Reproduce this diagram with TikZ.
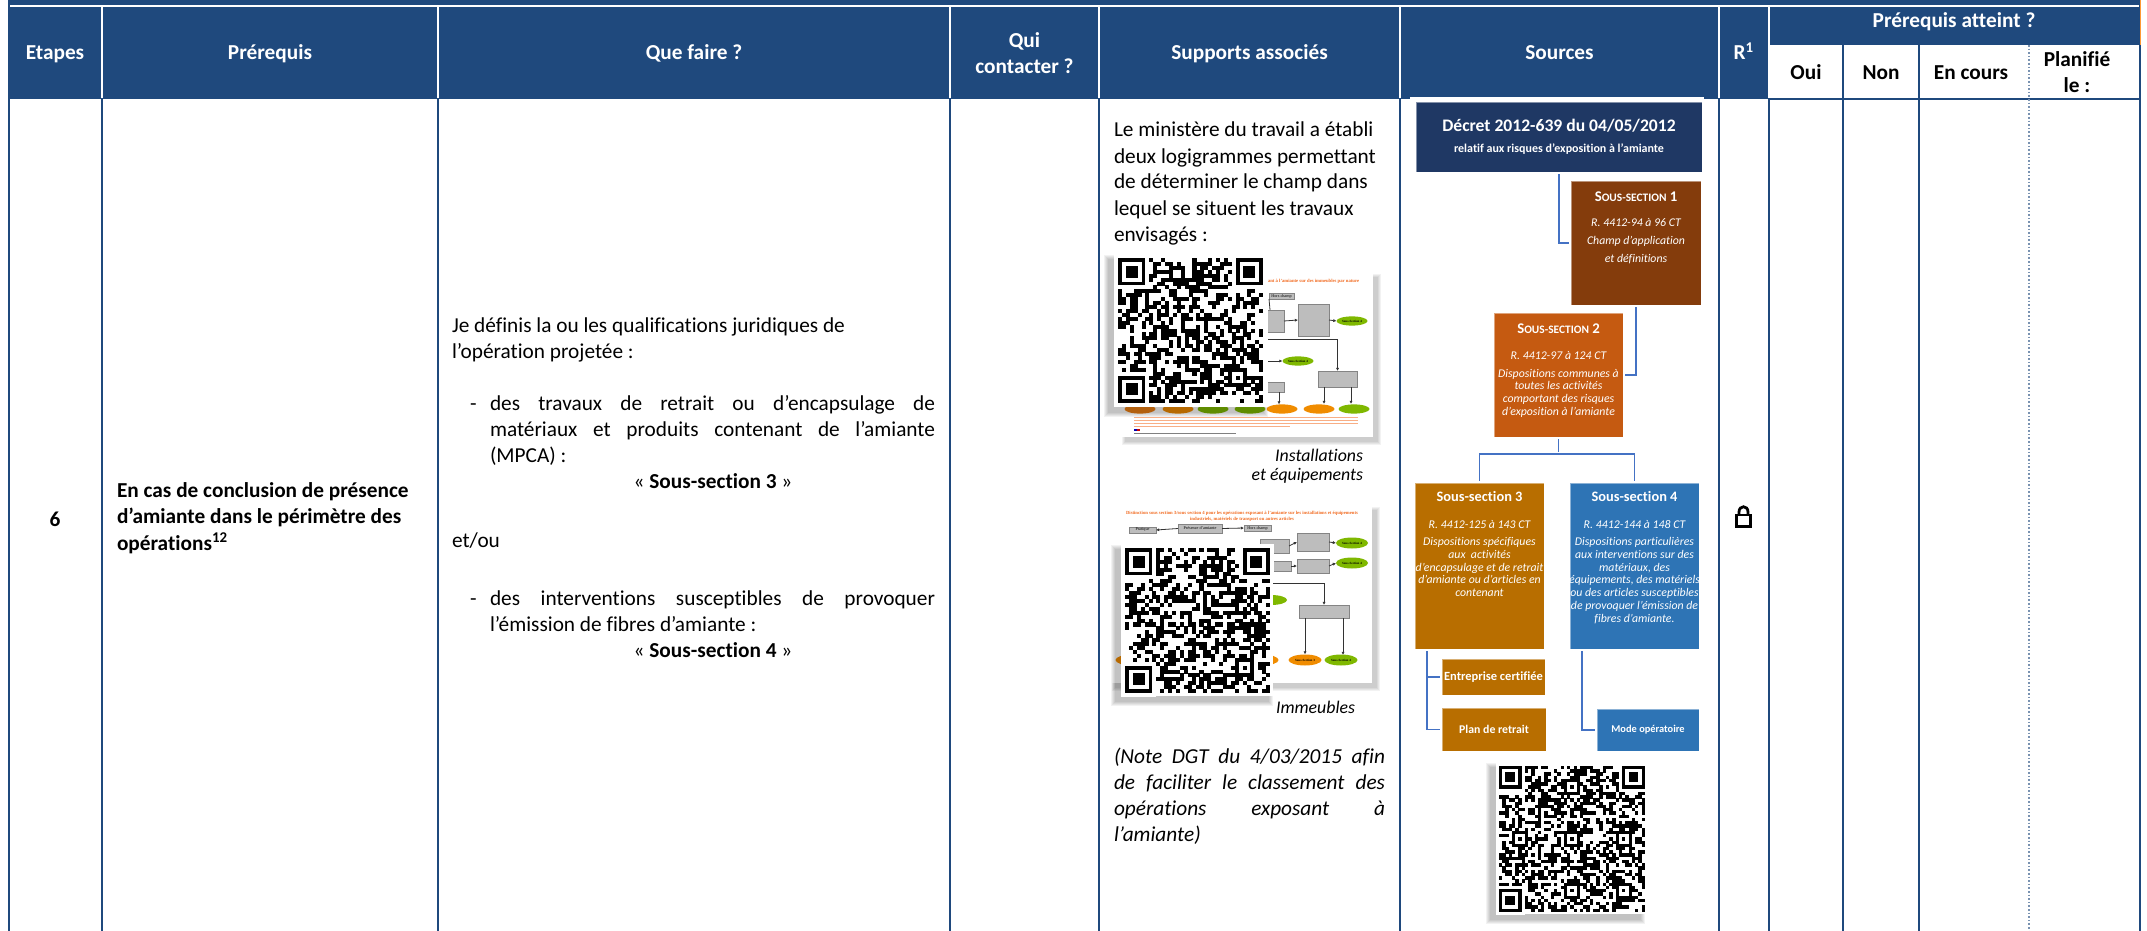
\documentclass[tikz,border=0pt]{standalone}
\usepackage{fontspec}
\setmainfont{Carlito}[Ligatures=NoCommon]
\newfontfamily\thumbf{Liberation Serif}
\usetikzlibrary{arrows.meta,calc,shapes.geometric}
\definecolor{hdrblue}{HTML}{1F497D}
\definecolor{navy}{HTML}{1F3864}
\definecolor{brownb}{HTML}{843C0C}
\definecolor{orangeb}{HTML}{C55A11}
\definecolor{ochre}{HTML}{B86E00}
\definecolor{blueb}{HTML}{2E74B5}
\definecolor{connc}{HTML}{4472C4}
\definecolor{thgray}{HTML}{BDBDBD}
\definecolor{thgreen}{HTML}{7FB800}
\definecolor{thorange}{HTML}{F08C00}
\definecolor{thtitle}{HTML}{F26B21}
\newcommand\fz[1]{\fontsize{#1}{#1}\selectfont}
\tikzset{
  every node/.style={inner sep=0pt,outer sep=0pt},
  hdr/.style={text=white,font=\fz{10.65}\bfseries,anchor=base},
  subh/.style={text=black,font=\fz{10.65}\bfseries,anchor=base},
  body/.style={text=black,font=\fz{10.65},anchor=base west},
  bodyc/.style={text=black,font=\fz{10.65},anchor=base},
  bodyit/.style={text=black,font=\fz{10.65}\itshape,anchor=base west},
  captxt/.style={text=black,font=\fz{8.9}\itshape,anchor=base east},
  wt/.style={text=white,font=\fz{5.9}\itshape,anchor=base},
  wb/.style={text=white,font=\fz{7.2}\bfseries,anchor=base},
  wbox/.style={text=white,font=\fz{6.25}\bfseries,anchor=center},
  sbox/.style={draw=white,draw opacity=.45,line width=.3pt},
  conn/.style={draw=connc,line width=.85pt,shorten <=1.2pt,shorten >=1.2pt},
  colline/.style={draw=hdrblue,line width=1pt},
  hsep/.style={draw=white,line width=1pt},
  thbox/.style={fill=thgray,draw=thgray!70!black,line width=.08pt,text=black,font=\thumbf\fz{2.1}},
  thell/.style={ellipse,text=black,font=\thumbf\bfseries\fz{1.6},inner sep=0pt},
  tharrow/.style={draw=black!80,line width=.4pt,-{Latex[length=1.6pt,width=1.6pt]}},
  thline/.style={draw=black!80,line width=.4pt},
  thtxt/.style={text=thtitle,font=\thumbf\bfseries\fz{2.35},anchor=base},
  fake/.style={draw=thtitle!55,line width=.5pt},
}
% box given by its corners, in reference pixels
\newcommand\pbox[6]{%
  \pgfmathsetmacro\bw{(#4-#2)*.5}\pgfmathsetmacro\bh{(#5-#3)*.5}%
  \pgfmathsetmacro\bx{(#2+#4)/2}\pgfmathsetmacro\by{(#3+#5)/2}%
  \node[sbox,fill=#6,minimum width=\bw pt,minimum height=\bh pt] (#1) at (\bx,\by) {};}
\newcommand\thb[6][]{%
  \pgfmathsetmacro\bw{(#4-#2)*.5}\pgfmathsetmacro\bh{(#5-#3)*.5}%
  \pgfmathsetmacro\bx{(#2+#4)/2}\pgfmathsetmacro\by{(#3+#5)/2}%
  \node[thbox,minimum width=\bw pt,minimum height=\bh pt] (#6) at (\bx,\by) {#1};}
% soft shadow: corners, then the side it falls to (-1 left, 1 right) and the reach
\newcommand\softshadow[6]{%
  \foreach \s in {1,...,#6}{\fill[black,opacity=.05]
    ({#1+#5*#6-\s},{#2+#6-\s}) rectangle ({#3+#5*#6+\s},{#4+#6+\s});}}
% x y n module seed alignment-list
\newcommand\qrcode[6]{%
  \pgfmathsetmacro\qm{#4*.5}\pgfmathtruncatemacro\qlast{#3-1}%
  \pgfmathsetseed{#5}%
  \begin{scope}[shift={(#1,#2)},x=\qm pt,y=-\qm pt]
    \foreach \i in {0,...,\qlast}{\foreach \j in {0,...,\qlast}{%
      \pgfmathrandominteger\qr{0}{99}%
      \ifnum\qr<50 \fill[black] (\i,\j) rectangle ++(1.03,1.03);\fi}}
    \foreach \fx/\fy in {0/0,{#3-7}/0,0/{#3-7}}{%
      \fill[white] ({\fx-1},{\fy-1}) rectangle ++(9,9);
      \fill[black] (\fx,\fy) rectangle ++(7,7);
      \fill[white] ({\fx+1},{\fy+1}) rectangle ++(5,5);
      \fill[black] ({\fx+2},{\fy+2}) rectangle ++(3,3);}
    \foreach \ax/\ay in {#6}{%
      \fill[black] (\ax,\ay) rectangle ++(5,5);
      \fill[white] ({\ax+1},{\ay+1}) rectangle ++(3,3);
      \fill[black] ({\ax+2},{\ay+2}) rectangle ++(1,1);}
  \end{scope}}
\begin{document}
\begin{tikzpicture}[x=.5pt,y=-.5pt]
\useasboundingbox (0,0) rectangle (2147,931);
\fill[white] (0,0) rectangle (2147,931);
% header band
\fill[hdrblue] (8,0) rectangle (2140,99);
\fill[white] (10,5) rectangle (2139,7);
\fill[white] (1770,45) rectangle (2140,99);
\draw[draw=orange!80,line width=.5pt] (2140.5,0) -- (2140.5,45);
% column lines
\foreach \cx in {9,102,438,950,1099,1400,1719,1769,2140}{\draw[colline] (\cx,99) -- (\cx,931);}
\foreach \cx in {1769,1843,1919,2140}{\draw[colline] (\cx,45) -- (\cx,99);}
\draw[colline] (1769,99) -- (2140,99);
\draw[colline] (1843,99) -- (1843,931);
\draw[colline] (1919,99) -- (1919,931);
\draw[draw=hdrblue!60,line width=.8pt,densely dotted] (2029,45) -- (2029,931);
\foreach \cx in {102,438,950,1099,1400,1719,1769}{\draw[hsep] (\cx,7) -- (\cx,98);}
% header text
\node[hdr] (hEtapes) at (55,60) {Etapes};
\node[hdr] (hPrereq) at (270,60) {Prérequis};
\node[hdr] (hQue) at (694,60) {Que faire ?};
\node[hdr] (hQui) at (1024.5,48) {Qui};
\node[hdr] (hCont) at (1024.5,74) {contacter ?};
\node[hdr] (hSup) at (1249.5,60) {Supports associés};
\node[hdr] (hSrc) at (1559.5,60) {Sources};
\node[hdr] (hR) at (1744,60) {R\textsuperscript{1}};
\node[hdr] (hAtt) at (1954,28) {Prérequis atteint ?};
\node[subh] (hOui) at (1806,80) {Oui};
\node[subh] (hNon) at (1881,80) {Non};
\node[subh] (hCours) at (1971,80) {En cours};
\node[subh] (hPlan) at (2077,67) {Planifié};
\node[subh] (hLe) at (2077,93) {le :};
% step
\node[subh] (six) at (55,526) {6};
\node[body,font=\fz{10.65}\bfseries] (p1) at (117,497) {En cas de conclusion de présence};
\node[body,font=\fz{10.65}\bfseries] (p2) at (117,523) {d’amiante dans le périmètre des};
\node[body,font=\fz{10.65}\bfseries] (p3) at (117,550) {opérations\textsuperscript{12}};
% que faire
\node[body] (q1) at (452,332) {Je définis la ou les qualifications juridiques de};
\node[body] (q2) at (452,358) {l’opération projetée :};
\node[body] (q3d) at (470,410) {-};
\node[body] (q3) at (490,410) {\makebox[222.5pt][s]{des travaux de retrait ou d’encapsulage de}};
\node[body] (q4) at (490,436) {\makebox[222.5pt][s]{matériaux et produits contenant de l’amiante}};
\node[body] (q5) at (490,462) {(MPCA) :};
\node[bodyc] (q6) at (713,488) {« \textbf{Sous-section 3} »};
\node[body] (q7) at (452,547) {et/ou};
\node[body] (q8d) at (470,605) {-};
\node[body] (q8) at (490,605) {\makebox[222.5pt][s]{des interventions susceptibles de provoquer}};
\node[body] (q9) at (490,631) {l’émission de fibres d’amiante :};
\node[bodyc] (q10) at (713,657) {« \textbf{Sous-section 4} »};
% supports text
\node[body] (s1) at (1114,137) {Le ministère du travail a établi};
\node[body] (s2) at (1114,163) {deux logigrammes permettant};
\node[body] (s3) at (1114,189) {de déterminer le champ dans};
\node[body] (s4) at (1114,215) {lequel se situent les travaux};
\node[body] (s5) at (1114,241) {envisagés :};
% thumbnail 1
\softshadow{1122}{274}{1373}{437}{1}{4}
\fill[white] (1122,274) rectangle (1373,437);
\node[thtxt,anchor=base west] (t1title) at (1268,282) {ant à l’amiante sur des immeubles par nature};
\thb[Hors champ]{1269}{293}{1294}{299}{t1a}
\thb{1262}{310}{1284}{332}{t1b}
\thb{1298}{304}{1329}{336}{t1c}
\node[thell,fill=thgreen,minimum width=15.5pt,minimum height=4.6pt] (t1d) at (1352,321) {Sous-Section 4};
\draw[tharrow] (t1b.east) -- (t1c.west);
\draw[tharrow] (t1c.east) -- (t1d.west);
\coordinate (t1n) at (1270,310);
\draw[thline] (t1n) -- (t1a.south west);
\node[thell,fill=thgreen,minimum width=15.5pt,minimum height=4.6pt] (t1e) at (1298,361) {Sous-Section 4};
\coordinate (t1f) at (1262,361);
\draw[tharrow] (t1f) -- (t1e.west);
\thb{1318}{371}{1357}{387}{t1g}
\coordinate (t1h) at (1262,339);
\draw[tharrow] (t1h) -| (t1g.north);
\thb{1262}{382}{1284}{392}{t1i}
\foreach \ex/\ec/\en in {1140/orange!70!brown/a,1178/thorange/b,1213/thgreen/c,1250/thgreen/d,1282/thorange/e,1319/thorange/f,1354/thgreen/g}{
  \node[thell,fill=\ec,minimum width=15.5pt,minimum height=4.6pt] (t1s\en) at (\ex,409) {};}
\coordinate (t1o) at (1279,392);\coordinate (t1p) at (1279,404.5);
\draw[tharrow] (t1o) -- (t1p);
\coordinate (t1j) at (1324,387);\coordinate (t1k) at (1351,387);
\coordinate (t1l) at (1324,404);\coordinate (t1m) at (1351,404);
\draw[tharrow] (t1j) -- (t1l);
\draw[tharrow] (t1k) -- (t1m);
\foreach \ly in {417,420,423}{\draw[fake,line width=.45pt] (1134,\ly) -- (1358,\ly);}
\draw[fake] (1134,426) -- (1290,426);
\fill[blue!70!black] (1134,428.5) rectangle (1137,431);\fill[red!80!black] (1137,428.5) rectangle (1140,431);
\draw[draw=gray,line width=.4pt] (1134,433.5) -- (1236,433.5);
\softshadow{1114}{255}{1268}{407}{-1}{5}
\fill[white] (1114,255) rectangle (1268,407);
\qrcode{1118}{258}{37}{3.92}{11}{28/28}
\node[captxt] (c1) at (1363,461) {Installations};
\node[captxt] (c2) at (1363,480) {et équipements};
% thumbnail 2
\softshadow{1112}{507}{1372}{683}{1}{4}
\fill[white] (1112,507) rectangle (1372,683);
\node[thtxt] (t2t1) at (1242,514) {Distinction sous section 3/sous section 4 pour les opérations exposant à l’amiante sur les installations et équipements};
\node[thtxt] (t2t2) at (1242,520) {industriels, matériels de transport ou autres articles};
\thb[Pratique]{1129}{527}{1156}{533}{t2a}
\thb[Présence d’amiante]{1178}{524}{1222}{533}{t2b}
\thb[Hors champ]{1244}{525}{1271}{531}{t2c}
\draw[tharrow] (t2b.west) -- (t2a.east);
\draw[tharrow] (t2b.east) -- (t2c.west);
\thb{1260}{539}{1289}{553}{t2d}
\thb{1297}{533}{1329}{551}{t2e}
\node[thell,fill=thgreen,minimum width=16pt,minimum height=5.5pt] (t2f) at (1352,543) {Sous-Section 4};
\draw[tharrow] (t2d.east) -- (t2e.west);
\draw[tharrow] (t2e.east) -- (t2f.west);
\thb{1262}{561}{1291}{571}{t2g}
\thb{1297}{559}{1329}{573}{t2h}
\node[thell,fill=thgreen,minimum width=16pt,minimum height=5.5pt] (t2i) at (1352,563) {Sous-Section 4};
\draw[tharrow] (t2g.east) -- (t2h.west);
\draw[tharrow] (t2h.east) -- (t2i.west);
\node[thell,fill=thgreen,minimum width=16pt,minimum height=5pt] (t2j) at (1271,600) {};
\thb{1299}{605}{1349}{618}{t2k}
\coordinate (t2l) at (1262,583);
\draw[tharrow] (t2l) -| (t2k.north);
\node[thell,fill=thorange,minimum width=16.5pt,minimum height=5.5pt] (t2m) at (1305,660) {Sous-Section 3};
\node[thell,fill=thgreen,minimum width=16.5pt,minimum height=5.5pt] (t2n) at (1341,660) {Sous-Section 4};
\node[thell,fill=thorange,minimum width=16.5pt,minimum height=5.5pt] (t2o) at (1262,660) {};
\node[thell,fill=thorange,minimum width=16.5pt,minimum height=5.5pt] (t2p) at (1132,660) {};
\draw[tharrow] (t2m.north |- t2k.south) -- (t2m.north);
\coordinate (t2q) at (1343,618);\coordinate (t2r) at (1343,655);
\draw[tharrow] (t2q) -- (t2r);
\softshadow{1121}{545}{1273}{696}{-1}{5}
\fill[white] (1121,545) rectangle (1273,696);
\qrcode{1125}{548}{37}{3.92}{27}{28/28}
\node[captxt] (c3) at (1355,713) {Immeubles};
\node[bodyit] (n1) at (1114,763) {\makebox[135.5pt][s]{(Note DGT du 4/03/2015 afin}};
\node[bodyit] (n2) at (1114,789) {\makebox[135.5pt][s]{de faciliter le classement des}};
\node[bodyit] (n3) at (1114,815) {\makebox[135.5pt][s]{opérations exposant à}};
\node[bodyit] (n4) at (1114,841) {l’amiante)};
% sources
\fill[white] (1410,97.5) rectangle (1704,101);
\pbox{decret}{1416}{102}{1702}{172}{navy}
\pbox{ss1}{1571}{181}{1701}{305}{brownb}
\pbox{ss2}{1494}{313}{1623}{437}{orangeb}
\pbox{ss3}{1415}{483}{1544}{649}{ochre}
\pbox{ss4}{1570}{483}{1699}{649}{blueb}
\pbox{ent}{1442}{659}{1545}{695}{ochre}
\pbox{plan}{1442}{708}{1546}{751}{ochre}
\pbox{mode}{1597}{709}{1699}{751}{blueb}
\coordinate (jct) at (1558.5,454);
\coordinate (ss3b) at (1427,649);
\coordinate (ss4b) at (1582,649);
\draw[conn] (decret.south) |- (ss1.west);
\draw[conn] (ss1.south) |- (ss2.east);
\draw[conn] (ss2.south) -- (jct);
\draw[conn] (ss3.north) |- (jct) -| (ss4.north);
\draw[conn] (ss3b) |- (plan.west);
\draw[conn,shorten <=0pt] (ss3b |- ent.west) -- (ent.west);
\draw[conn] (ss4b) |- (mode.west);
\node[wb,font=\fz{8.8}\bfseries] (dt1) at (1559,132) {Décret 2012-639 du 04/05/2012};
\node[wb,font=\fz{6}\bfseries] (dt2) at (1559,153) {relatif aux risques d'exposition à l'amiante};
\node[wb] (s1t) at (1636,201) {{\fz{7.4}S}{\fz{5.7}OUS-SECTION} {\fz{7.4}1}};
\node[wt] (s1a) at (1636,227) {R. 4412-94 à 96 CT};
\node[wt] (s1b) at (1636,244) {Champ d’application};
\node[wt] (s1c) at (1636,262) {et définitions};
\node[wb] (s2t) at (1558.5,333) {{\fz{7.4}S}{\fz{5.7}OUS-SECTION} {\fz{7.4}2}};
\node[wt] (s2a) at (1558.5,359) {R. 4412-97 à 124 CT};
\node[wt] (s2b) at (1558.5,377) {Dispositions communes à};
\node[wt] (s2c) at (1558.5,389.5) {toutes les activités};
\node[wt] (s2d) at (1558.5,402) {comportant des risques};
\node[wt] (s2e) at (1558.5,415) {d’exposition à l’amiante};
\node[wb] (s3t) at (1479.5,501) {Sous-section 3};
\node[wt] (s3a) at (1479.5,528) {R. 4412-125 à 143 CT};
\node[wt] (s3b) at (1479.5,545) {Dispositions spécifiques};
\node[wt] (s3c) at (1479.5,558) {aux\ \ activités};
\node[wt] (s3d) at (1479.5,571) {d'encapsulage et de retrait};
\node[wt] (s3e) at (1479.5,583) {d'amiante ou d'articles en};
\node[wt] (s3f) at (1479.5,596) {contenant};
\node[wb] (s4t) at (1634.5,501) {Sous-section 4};
\node[wt] (s4a) at (1634.5,528) {R. 4412-144 à 148 CT};
\node[wt] (s4b) at (1634.5,545) {Dispositions particulières};
\node[wt] (s4c) at (1634.5,558) {aux interventions sur des};
\node[wt] (s4d) at (1634.5,571) {matériaux, des};
\node[wt] (s4e) at (1634.5,583) {équipements, des matériels};
\node[wt] (s4f) at (1634.5,596) {ou des articles susceptibles};
\node[wt] (s4g) at (1634.5,609) {de provoquer l’émission de};
\node[wt] (s4h) at (1634.5,622) {fibres d’amiante.};
\node[wbox] (entt) at (ent.center) {Entreprise certifiée};
\node[wbox,font=\fz{5.9}\bfseries] (plant) at (plan.center) {Plan de retrait};
\node[wbox,font=\fz{5.2}\bfseries] (modet) at (mode.center) {Mode opératoire};
% QR 3
\softshadow{1496}{763}{1645}{914}{-1}{5}
\fill[white] (1496,763) rectangle (1645,914);
\qrcode{1499}{766}{45}{3.24}{53}{36/36,20/4,4/20,20/20,36/20,20/36}
% lock
\draw[black,line width=1.4pt] (1736.5,515) rectangle (1750.5,526.5);
\draw[black,line width=1.4pt] (1739,515) -- (1739,512) .. controls (1739,505) and (1748,505) .. (1748,512) -- (1748,515);
\end{tikzpicture}
\end{document}
